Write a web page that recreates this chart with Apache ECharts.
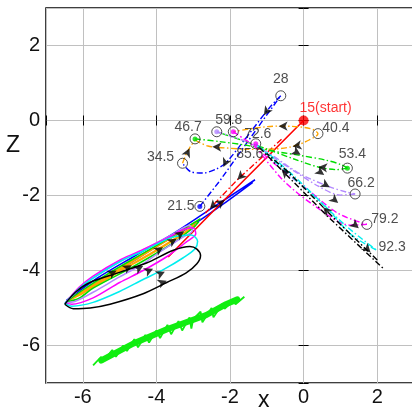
<!DOCTYPE html>
<html><head><meta charset="utf-8">
<script src="https://cdn.jsdelivr.net/npm/echarts@6/dist/echarts.min.js"></script>
<style>html,body{margin:0;padding:0;background:#fff}#c{width:412px;height:411px}</style>
</head><body><div id="c"></div>
<script>
// ---------- data ----------
const xTickValues = [-6, -4, -2, 0, 2];
const zTickValues = [-6, -4, -2, 0, 2];

// dash-dot excursions
const redDash = [[-0.6,-0.5],[-1.8,-1.58],[-2.7,-2.5]];
const blueDashUp = [[-2.82,-2.29],[-2.27,-1.6],[-1.11,0],[-0.62,0.66]];
const blueDashDown = [[-0.62,0.66],[-0.92,0.35],[-2.09,-1.11],[-2.36,-1.29],[-2.73,-1.40],[-3.08,-1.36],[-3.29,-1.14]];
const orangeUp = [[-3.29,-1.14],[-3.2,-0.92],[-3.08,-0.7],[-2.95,-0.52]];
const orangeLoop = [[-2.95,-0.52],[-2.6,-0.68],[-2.0,-0.74],[-1.3,-0.77],[-0.66,-0.75],[-0.26,-0.68],[0.15,-0.52],[0.39,-0.35],[0.25,-0.24],[-0.1,-0.17],[-0.7,-0.15],[-1.3,-0.2],[-1.91,-0.3]];
const greenOut = [[-2.95,-0.49],[-2.3,-0.56],[-1.5,-0.67],[-0.92,-0.8],[-0.1,-0.93],[0.62,-1.06],[1.0,-1.17],[1.19,-1.27]];
const greenBack = [[1.19,-1.27],[0.9,-1.31],[0.4,-1.24],[-0.28,-1.02],[-1.0,-0.76],[-1.7,-0.52],[-2.36,-0.3]];
const purpleOut = [[-2.36,-0.3],[-1.6,-0.55],[-0.92,-0.89],[-0.1,-1.42],[0.71,-1.77],[1.17,-1.91],[1.40,-1.96]];
const purpleBack = [[1.40,-1.96],[1.0,-1.99],[0.4,-1.75],[-0.3,-1.32],[-0.9,-0.93],[-1.3,-0.62]];
const magentaOut = [[-1.91,-0.3],[-1.35,-0.68],[-0.73,-1.2],[0.13,-1.86],[0.94,-2.48],[1.72,-2.77]];
const magentaBack = [[1.72,-2.77],[1.26,-2.79],[0.35,-2.31],[-0.55,-1.6],[-1.3,-0.7]];
const cyanOut = [[-1.3,-0.62],[-0.64,-1.22],[0.35,-2.08],[1.2,-2.85],[1.97,-3.45]];
const cyanBack = [[1.97,-3.45],[1.3,-3.05],[0.63,-2.33],[-0.3,-1.45],[-1.0,-0.85],[-1.35,-0.62]];
const blackOut = [[-1.2,-0.72],[-0.64,-1.28],[0.7,-2.6],[2.19,-3.97]];
const blackBack = [[2.0,-3.72],[0.8,-2.58],[-0.42,-1.37],[-1.0,-0.88]];

// solid loops
const redSolid = [[0,0],[-1.2,-1.18],[-2.46,-2.42],[-3.68,-3.64]];
const blueSolid = [[-1.32,-1.58],[-2.0,-2.02],[-2.82,-2.55],[-3.6,-3.05],[-4.6,-3.62],[-5.6,-4.2],[-6.45,-4.8],[-6.0,-4.58],[-5.0,-3.98],[-4.0,-3.36],[-3.0,-2.78],[-2.2,-2.24],[-1.38,-1.65]];
const orangeSolid = [[-2.9,-2.7],[-3.6,-3.12],[-4.4,-3.6],[-5.4,-4.2],[-6.4,-4.8],[-6.0,-4.6],[-5.0,-4.02],[-4.2,-3.58],[-3.4,-3.1],[-2.95,-2.8]];
const greenSolid = [[-2.8,-2.62],[-3.4,-2.98],[-4.2,-3.45],[-5.2,-4.02],[-6.0,-4.52],[-6.45,-4.84],[-6.1,-4.74],[-5.72,-4.47],[-4.6,-3.88],[-3.6,-3.3],[-3.0,-2.86],[-2.85,-2.7]];
const purpleSolid = [[-6.47,-4.86],[-6.2,-4.82],[-5.72,-4.58],[-5.0,-4.17],[-4.36,-3.82],[-3.9,-3.5],[-3.3,-3.12],[-3.02,-2.93],[-3.1,-2.8],[-3.59,-3.05],[-4.36,-3.45],[-4.95,-3.74],[-5.72,-4.2],[-6.1,-4.5],[-6.47,-4.86]];
const magentaSolid = [[-6.48,-4.87],[-6.3,-4.9],[-5.72,-4.73],[-5.0,-4.32],[-4.36,-4.0],[-3.7,-3.62],[-3.2,-3.25],[-2.93,-3.02],[-3.0,-2.86],[-3.3,-2.92],[-3.59,-3.08],[-4.36,-3.44],[-4.95,-3.7],[-5.72,-4.15],[-6.1,-4.45],[-6.48,-4.87]];
const cyanSolid = [[-6.49,-4.88],[-6.3,-4.95],[-5.72,-4.85],[-5.0,-4.56],[-4.36,-4.24],[-3.8,-3.97],[-3.27,-3.66],[-2.95,-3.42],[-2.88,-3.22],[-3.05,-3.05],[-3.59,-3.12],[-4.36,-3.48],[-4.95,-3.74],[-5.72,-4.2],[-6.1,-4.48],[-6.49,-4.88]];
const blackSolid = [[-6.49,-4.9],[-6.26,-5.02],[-5.8,-5.0],[-5.26,-4.9],[-4.36,-4.62],[-3.72,-4.32],[-3.2,-4.07],[-2.9,-3.82],[-2.8,-3.6],[-2.9,-3.43],[-3.09,-3.36],[-3.54,-3.46],[-4.27,-3.8],[-5.0,-4.05],[-5.81,-4.32],[-6.2,-4.58],[-6.49,-4.9]];

// lower green band
const greenBand = [[-5.72,-6.53],[-5.5,-6.3],[-5.45,-6.42],[-5.2,-6.12],[-5.1,-6.3],[-4.9,-6.0],[-4.8,-6.15],[-4.6,-5.83],[-4.5,-6.05],[-4.3,-5.72],[-4.2,-5.92],[-4.0,-5.6],[-3.9,-5.8],[-3.7,-5.45],[-3.6,-5.7],[-3.4,-5.35],[-3.3,-5.6],[-3.1,-5.25],[-3.05,-5.55],[-3.0,-5.3],[-2.8,-5.1],[-2.75,-5.38],[-2.5,-5.0],[-2.45,-5.25],[-2.2,-4.88],[-2.15,-5.02],[-1.9,-4.8],[-1.85,-4.9],[-1.61,-4.7]];
const greenBandCore = [[-5.5,-6.4],[-4.63,-5.95],[-3.72,-5.57],[-2.65,-5.19],[-2.11,-4.9],[-1.8,-4.77]];

// arrowheads: [x, z, direction in degrees]
const arrowMarks = [
  [-3.1,-0.74,65],[-2.48,-0.7,178],[-0.68,-0.15,180],[-0.3,-0.69,190],
  [-1.08,0.14,-125],[-2.18,-1.24,-115],
  [-1.8,-1.58,-135],[-2.55,-2.36,-135],[-2.14,-2.12,35],
  [-0.08,-0.91,-30],[0.4,-1.24,175],
  [0.71,-1.78,-30],[0.56,-1.45,-35],
  [-0.6,-1.3,135],[0.53,-2.31,135],[0.94,-2.2,-40],[1.5,-2.87,-40],[1.82,-3.52,-45],
  [-5.08,-4.0,30],[-4.67,-3.86,30],[-4.36,-3.88,28],[-4.09,-3.95,25],[-3.77,-4.03,25],[-3.72,-4.27,22],
  [-3.82,-3.38,32],[-3.45,-3.15,32],[-3.25,-2.96,35]
];

// time marks
const markTimes = ['15(start)','21.5','28','34.5','40.4','46.7','53.4','59.8','66.2','72.6','79.2','85.6','92.3'];
const markX = [0,-2.82,-0.62,-3.29,0.39,-2.95,1.19,-2.36,1.40,-1.30,1.72,-1.30,1.97];
const markZ = [0,-2.29,0.66,-1.14,-0.35,-0.49,-1.27,-0.30,-1.96,-0.62,-2.77,-0.62,-3.45];
const circleTimes = ['21.5','28','34.5','40.4','46.7','53.4','59.8','66.2','72.6','79.2'];
const extraCircles = [[-1.91,-0.3]];
const fillDots = [[-2.95,-0.49,'#00dd00'],[1.19,-1.27,'#00dd00'],[-2.36,-0.3,'#b388ff'],[-2.82,-2.29,'#0000ff'],[-1.30,-0.62,'#ff00ff'],[-1.91,-0.3,'#ff00ff']];

// ---------- styles ----------
const labelOffsets = {
  '15(start)':[22,-12],'21.5':[-19,0],'28':[0,-17],'34.5':[-22,-6],'40.4':[18,-5],
  '46.7':[-7,-12],'53.4':[5,-14],'59.8':[12,-12],'66.2':[6,-11],'72.6':[2,-10],
  '79.2':[18,-5],'85.6':[-6,10],'92.3':[16,-3]
};
const C = {red:'#ff0000', blue:'#0000ff', orange:'#ffa500', green:'#00dd00', purple:'#b388ff', magenta:'#ff00ff', cyan:'#00eeee', black:'#000000'};
const DASHDOT = [6,2.5,1.5,2.5];

function lineS(data, color, opts) {
  opts = opts || {};
  return {
    type:'line', data:data, showSymbol:false, symbol:'none', silent:true,
    smooth: opts.smooth || false, z: opts.z || 2,
    lineStyle:{color:color, width: opts.width || 1.4, type: opts.dash ? DASHDOT : 'solid', cap: opts.cap || 'butt'}
  };
}

const series = [
  lineS(blueSolid, C.blue, {smooth:0.3, width:1.5}),
  lineS(redSolid, C.red, {width:1.6}),
  lineS(orangeSolid, C.orange, {smooth:0.3, width:2.2}),
  lineS(greenSolid, C.green, {smooth:0.3, width:1.5}),
  lineS(purpleSolid, C.purple, {smooth:0.3, width:1.5}),
  lineS(magentaSolid, C.magenta, {smooth:0.3, width:1.5}),
  lineS(cyanSolid, C.cyan, {smooth:0.3, width:1.5}),
  lineS(blackSolid, C.black, {smooth:0.3, width:1.5}),
  lineS(greenBand, '#11ee11', {width:1.8}),
  lineS(greenBandCore, '#11ee11', {width:6, cap:'round'}),
  lineS(redDash, C.red, {dash:true}),
  lineS(blueDashUp, C.blue, {dash:true}),
  lineS(blueDashDown, C.blue, {dash:true, smooth:0.3}),
  lineS(orangeUp, C.orange, {dash:true, smooth:0.3}),
  lineS(orangeLoop, C.orange, {dash:true, smooth:0.35}),
  lineS(greenOut, C.green, {dash:true, smooth:0.3}),
  lineS(greenBack, C.green, {dash:true, smooth:0.3}),
  lineS(purpleOut, C.purple, {dash:true, smooth:0.3}),
  lineS(purpleBack, C.purple, {dash:true, smooth:0.3}),
  lineS(magentaOut, C.magenta, {dash:true, smooth:0.3}),
  lineS(magentaBack, C.magenta, {dash:true, smooth:0.3}),
  lineS(cyanOut, C.cyan, {dash:true, smooth:0.3}),
  lineS(cyanBack, C.cyan, {dash:true, smooth:0.3}),
  lineS(blackOut, C.black, {dash:true}),
  lineS(blackBack, C.black, {dash:true}),
  {
    type:'scatter', silent:true, z:6, symbol:'arrow', symbolSize:[7,9],
    symbolRotate: function (v) { return v[2] - 90; },
    itemStyle:{color:'#000'}, data: arrowMarks
  },
  {
    type:'scatter', silent:true, z:7, symbolSize:5,
    data: fillDots.map(function (d) { return {value:[d[0], d[1]], itemStyle:{color:d[2]}}; })
  },
  {
    type:'scatter', silent:true, z:8, symbol:'circle', symbolSize:10,
    itemStyle:{color:'rgba(0,0,0,0)', borderColor:'#222', borderWidth:1},
    data: circleTimes.map(function (t) { const i = markTimes.indexOf(t); return [markX[i], markZ[i]]; }).concat(extraCircles)
  },
  {
    type:'scatter', silent:true, z:9, symbol:'circle', symbolSize:10,
    itemStyle:{color:C.red}, data:[[markX[0], markZ[0]]]
  },
  {
    type:'scatter', silent:true, z:10, symbolSize:1, itemStyle:{color:'rgba(0,0,0,0)'},
    data: markTimes.map(function (t, i) {
      return {
        value:[markX[i], markZ[i]],
        label:{show:true, position:'inside', formatter:t, offset:labelOffsets[t],
          color: i === 0 ? '#ff0000' : '#222', fontSize:14, fontFamily:'Liberation Sans'}
      };
    })
  }
];

const axisCommon = {
  type:'value', min:-7, max:3, splitNumber:5,
  axisLine:{show:false},
  axisTick:{show:true, inside:true, length:5, lineStyle:{color:'#000', width:1}}
};

const option = {
  animation:false,
  backgroundColor:'#fff',
  grid:{left:46, top:8, width:368, height:375, containLabel:false, outerBoundsMode:'none',
        show:true, borderColor:'#000', borderWidth:1.5, backgroundColor:'transparent'},
  xAxis:[
    Object.assign({}, axisCommon, {position:'bottom',
      axisLabel:{show:true, margin:4, fontSize:20, color:'#111', fontFamily:'Liberation Sans',
        formatter:function (v) { return xTickValues.indexOf(v) >= 0 ? String(v) : ''; }},
      splitLine:{show:true, lineStyle:{color:'#c0c0c0', width:1}}}),
    Object.assign({}, axisCommon, {position:'top', axisLabel:{show:false}, splitLine:{show:false}})
  ],
  yAxis:[
    Object.assign({}, axisCommon, {position:'left',
      axisLabel:{show:true, margin:6, fontSize:20, color:'#111', fontFamily:'Liberation Sans',
        formatter:function (v) { return zTickValues.indexOf(v) >= 0 ? String(v) : ''; }},
      splitLine:{show:true, lineStyle:{color:'#c0c0c0', width:1}}}),
    Object.assign({}, axisCommon, {position:'right', axisLabel:{show:false}, splitLine:{show:false}})
  ],
  graphic:[
    {type:'text', left:258, top:389, style:{text:'x', fontSize:23, fill:'#111', fontFamily:'Liberation Sans'}},
    {type:'text', left:6, top:134, style:{text:'Z', fontSize:23, fill:'#111', fontFamily:'Liberation Sans'}}
  ],
  series: series
};

const chart = echarts.init(document.getElementById('c'), null, {renderer:'canvas'});
chart.setOption(option);
</script></body></html>
